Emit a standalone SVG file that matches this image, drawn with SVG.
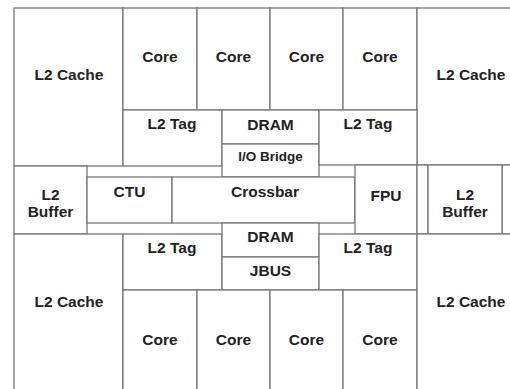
<svg xmlns="http://www.w3.org/2000/svg" width="510" height="389" viewBox="0 0 510 389">
<style>
.b{fill:#fff;stroke:#777;stroke-width:1.3}
text{font-family:"Liberation Sans",Arial,sans-serif;font-weight:bold;font-size:15.5px;fill:#222;text-anchor:middle}
.s{font-size:13.5px}
</style>
<rect width="510" height="389" fill="#fff"/>
<g id="l2cache-tl"><rect class="b" x="14" y="8" width="109" height="158"/><text x="69" y="80">L2 Cache</text></g>
<g id="core-t1"><rect class="b" x="123" y="8" width="74" height="102"/><text x="160" y="62">Core</text></g>
<g id="core-t2"><rect class="b" x="197" y="8" width="73" height="102"/><text x="233.5" y="62">Core</text></g>
<g id="core-t3"><rect class="b" x="270" y="8" width="73" height="102"/><text x="306.5" y="62">Core</text></g>
<g id="core-t4"><rect class="b" x="343" y="8" width="74" height="102"/><text x="380" y="62">Core</text></g>
<g id="l2cache-tr"><rect class="b" x="417" y="8" width="120" height="157"/><text x="471" y="80">L2 Cache</text></g>
<g id="l2tag-tl"><rect class="b" x="123" y="110" width="99" height="56"/><text x="172" y="129">L2 Tag</text></g>
<g id="dram-t"><rect class="b" x="222" y="110" width="97" height="34"/><text x="270.5" y="130">DRAM</text></g>
<g id="io-bridge"><rect class="b" x="222" y="144" width="97" height="33"/><text class="s" x="270.5" y="161">I/O Bridge</text></g>
<g id="l2tag-tr"><rect class="b" x="319" y="110" width="98" height="55"/><text x="368" y="129">L2 Tag</text></g>
<g id="l2buffer-l"><rect class="b" x="14" y="166" width="73" height="68"/><text x="50.5" y="200">L2</text><text x="50.5" y="217">Buffer</text></g>
<g id="ctu"><rect class="b" x="87" y="177" width="85" height="46"/><text x="129.5" y="197">CTU</text></g>
<g id="crossbar"><rect class="b" x="172" y="177" width="183" height="46"/><text x="265" y="197">Crossbar</text></g>
<g id="fpu"><rect class="b" x="355" y="165" width="62" height="69"/><text x="386" y="201">FPU</text></g>
<g id="gap-r"><rect class="b" x="417" y="165" width="11" height="69"/><rect class="b" x="502" y="165" width="40" height="69"/></g>
<g id="l2buffer-r"><rect class="b" x="428" y="165" width="74" height="69"/><text x="465" y="200">L2</text><text x="465" y="217">Buffer</text></g>
<g id="l2cache-bl"><rect class="b" x="14" y="234" width="109" height="200"/><text x="69" y="307">L2 Cache</text></g>
<g id="l2tag-bl"><rect class="b" x="123" y="234" width="99" height="56"/><text x="172" y="253">L2 Tag</text></g>
<g id="dram-b"><rect class="b" x="222" y="223" width="97" height="34"/><text x="270.5" y="242">DRAM</text></g>
<g id="jbus"><rect class="b" x="222" y="257" width="97" height="33"/><text x="270.5" y="276">JBUS</text></g>
<g id="l2tag-br"><rect class="b" x="319" y="234" width="98" height="56"/><text x="368" y="253">L2 Tag</text></g>
<g id="core-b1"><rect class="b" x="123" y="290" width="74" height="140"/><text x="160" y="345">Core</text></g>
<g id="core-b2"><rect class="b" x="197" y="290" width="73" height="140"/><text x="233.5" y="345">Core</text></g>
<g id="core-b3"><rect class="b" x="270" y="290" width="73" height="140"/><text x="306.5" y="345">Core</text></g>
<g id="core-b4"><rect class="b" x="343" y="290" width="74" height="140"/><text x="380" y="345">Core</text></g>
<g id="l2cache-br"><rect class="b" x="417" y="234" width="120" height="200"/><text x="471" y="307">L2 Cache</text></g>
<g id="connectors"/>
</svg>
